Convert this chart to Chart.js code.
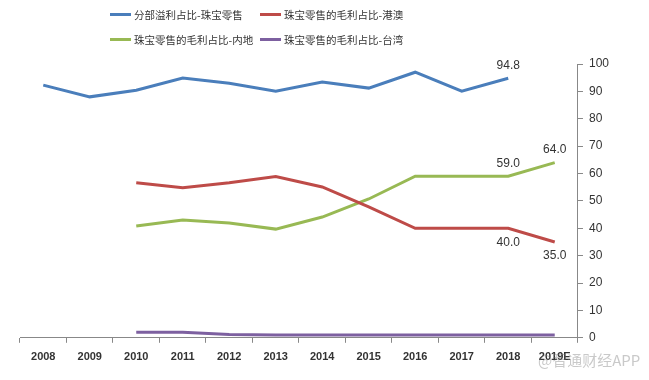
<!DOCTYPE html>
<html>
<head>
<meta charset="utf-8">
<script src="https://cdn.jsdelivr.net/npm/chart.js@4/dist/chart.umd.min.js"></script>
<style>
  html, body { margin: 0; padding: 0; background: #fff; }
  #wrap { width: 649px; height: 380px; position: relative; }
  #legend {
    position: absolute; left: 110px; top: 5px; width: 320px;
    display: grid; grid-template-columns: 150px 170px; row-gap: 6px;
    font: 10.5px 'Noto Sans CJK SC', sans-serif; color: #333;
  }
  #legend .item { display: flex; align-items: center; height: 19px; white-space: nowrap; }
  #legend .swatch { width: 21px; height: 3px; margin-right: 3px; }
  #mark {
    position: absolute; left: 538px; top: 349px;
    font: 15px 'Noto Sans CJK SC', sans-serif; color: rgba(120,120,120,0.4);
  }
</style>
</head>
<body>
<div id="wrap">
  <canvas id="c"></canvas>
  <div id="legend"></div>
  <div id="mark">@智通财经APP</div>
</div>
<script>
const years = ["2008", "2009", "2010", "2011", "2012", "2013", "2014", "2015", "2016", "2017", "2018", "2019E"]
const segmentProfit = [92.3, 88.0, 90.4, 94.9, 93.0, 90.1, 93.4, 91.2, 97.0, 90.1, 94.8, null]
const hkMacau = [null, null, 56.6, 54.8, 56.6, 58.9, 55.1, 47.8, 40.0, 40.0, 40.0, 35.0]
const mainland = [null, null, 40.8, 43.0, 41.9, 39.7, 44.1, 50.7, 59.0, 59.0, 59.0, 64.0]
const taiwan = [null, null, 2.0, 2.0, 1.2, 1.0, 1.0, 1.0, 1.0, 1.0, 1.0, 1.0]

// which points carry a value label, and whether it sits above or below
const valueLabels = [
  { ds: 0, i: 10, pos: "above" },
  { ds: 2, i: 10, pos: "above" },
  { ds: 2, i: 11, pos: "above" },
  { ds: 1, i: 10, pos: "below" },
  { ds: 1, i: 11, pos: "below" }
]

const font = "'Liberation Sans', 'DejaVu Sans', sans-serif"

const labelPlugin = {
  id: "valueLabels",
  afterDatasetsDraw(chart) {
    const ctx = chart.ctx
    ctx.save()
    ctx.font = "12px " + font
    ctx.fillStyle = "#333"
    ctx.textAlign = "center"
    valueLabels.forEach(l => {
      const pt = chart.getDatasetMeta(l.ds).data[l.i]
      const v = chart.data.datasets[l.ds].data[l.i]
      if (l.pos === "above") {
        ctx.textBaseline = "bottom"
        ctx.fillText(v.toFixed(1), pt.x, pt.y - 7)
      } else {
        ctx.textBaseline = "top"
        ctx.fillText(v.toFixed(1), pt.x, pt.y + 8)
      }
    })
    ctx.restore()
  }
}

function series(label, data, color) {
  return {
    label: label,
    data: data,
    borderColor: color,
    backgroundColor: color,
    borderWidth: 3,
    pointRadius: 0,
    tension: 0,
    spanGaps: false
  }
}

const chart = new Chart(document.getElementById("c"), {
  type: "line",
  data: {
    labels: years,
    datasets: [
      series("分部溢利占比-珠宝零售", segmentProfit, "#4A7EBB"),
      series("珠宝零售的毛利占比-港澳", hkMacau, "#BE4B48"),
      series("珠宝零售的毛利占比-内地", mainland, "#98B954"),
      series("珠宝零售的毛利占比-台湾", taiwan, "#7D60A0")
    ]
  },
  options: {
    responsive: true,
    maintainAspectRatio: false,
    animation: false,
    layout: {
      padding: { left: 20, right: 34, top: 64, bottom: 8 }
    },
    plugins: {
      legend: { display: false },
      tooltip: { enabled: false }
    },
    scales: {
      x: {
        offset: true,
        border: { display: true, color: "#888", width: 1 },
        grid: {
          offset: true,
          drawOnChartArea: false,
          drawTicks: true,
          tickLength: 5,
          color: "#888"
        },
        ticks: {
          color: "#333",
          maxRotation: 0,
          autoSkip: false,
          padding: 8,
          font: { size: 11, family: font, weight: "bold" }
        }
      },
      y: {
        position: "right",
        min: 0,
        max: 100,
        border: { display: true, color: "#888", width: 1 },
        grid: {
          drawOnChartArea: false,
          drawTicks: true,
          tickLength: 5,
          color: "#888"
        },
        ticks: {
          stepSize: 10,
          color: "#333",
          padding: 6,
          font: { size: 12, family: font }
        }
      }
    }
  },
  plugins: [labelPlugin]
})

// legend in two rows of two, built from the datasets
const legend = document.getElementById("legend")
chart.data.datasets.forEach(ds => {
  const item = document.createElement("div")
  item.className = "item"
  const sw = document.createElement("span")
  sw.className = "swatch"
  sw.style.background = ds.borderColor
  item.appendChild(sw)
  item.appendChild(document.createTextNode(ds.label))
  legend.appendChild(item)
})
</script>
</body>
</html>
